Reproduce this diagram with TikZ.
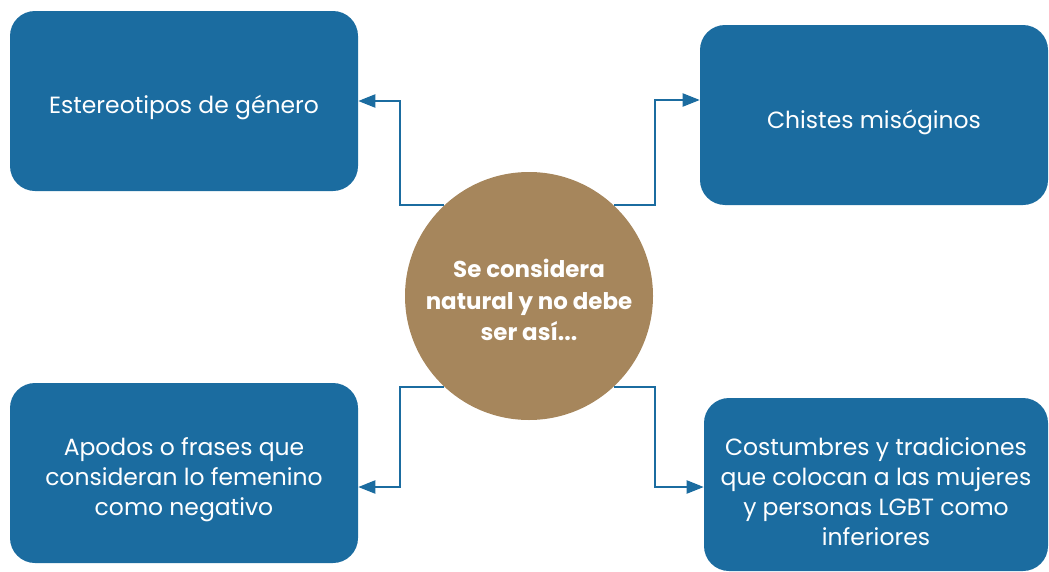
\documentclass[tikz,border=0pt]{standalone}
\usepackage{fontspec}
\setmainfont{Poppins}
\usetikzlibrary{arrows.meta,calc}
\definecolor{boxblue}{HTML}{1B6CA0}
\definecolor{circbrown}{HTML}{A6865C}
\begin{document}
\begin{tikzpicture}[x=0.75pt,y=-0.75pt,
  bluebox/.style={draw=none,fill=boxblue,rounded corners=18.75pt,
    minimum width=261pt,minimum height=135pt,inner sep=0pt},
  boxtext/.style={text=white,inner sep=0pt,align=center,
    font=\fontsize{17.6pt}{22.5pt}\selectfont},
  hub/.style={circle,fill=circbrown,draw=none,minimum size=186pt,inner sep=0pt},
  hubtext/.style={text=white,inner sep=0pt,align=center,
    font=\fontsize{17.2pt}{23.6pt}\selectfont\bfseries},
  link/.style={draw=boxblue,line width=1.5pt,-{Triangle[length=12.75pt,width=9.75pt]}}]
\useasboundingbox (0,0) rectangle (1049,571);
\node[bluebox] (tl) at (184,101) {};
\node[bluebox] (tr) at (874,115) {};
\node[bluebox] (bl) at (184,473) {};
\node[bluebox,minimum width=258pt,minimum height=129.75pt] (br) at (876,484.5) {};
\node[hub] (c) at (529,296) {};
\node[boxtext] (tltext) at ($(tl.center)+(0,6)$) {Estereotipos de género};
\node[boxtext] (trtext) at ($(tr.center)+(0,7)$) {Chistes misóginos};
\node[boxtext] (bltext) at ($(bl.center)+(0,7)$) {Apodos o frases que\\consideran lo femenino\\como negativo};
\node[boxtext] (brtext) at ($(br.center)+(0,7.5)$) {Costumbres y tradiciones\\que colocan a las mujeres\\y personas LGBT como\\inferiores};
\node[hubtext] (ctext) at ($(c.center)+(0,4)$) {Se considera\\natural y no debe\\ser así...};
\coordinate (tlend) at ($(tl.east)+(0,0)$);
\coordinate (trend) at ($(tr.west)+(0,-15)$);
\coordinate (blend) at ($(bl.east)+(0,14)$);
\coordinate (brend) at ($(br.west)+(0,2.5)$);
\draw[link] (c.133) -| ($(tlend)+(42,0)$) -- (tlend);
\draw[link] (c.47) -| ($(trend)+(-45,0)$) -- (trend);
\draw[link] (c.227) -| ($(blend)+(42,0)$) -- (blend);
\draw[link] (c.313) -| ($(brend)+(-49,0)$) -- (brend);
\end{tikzpicture}
\end{document}
